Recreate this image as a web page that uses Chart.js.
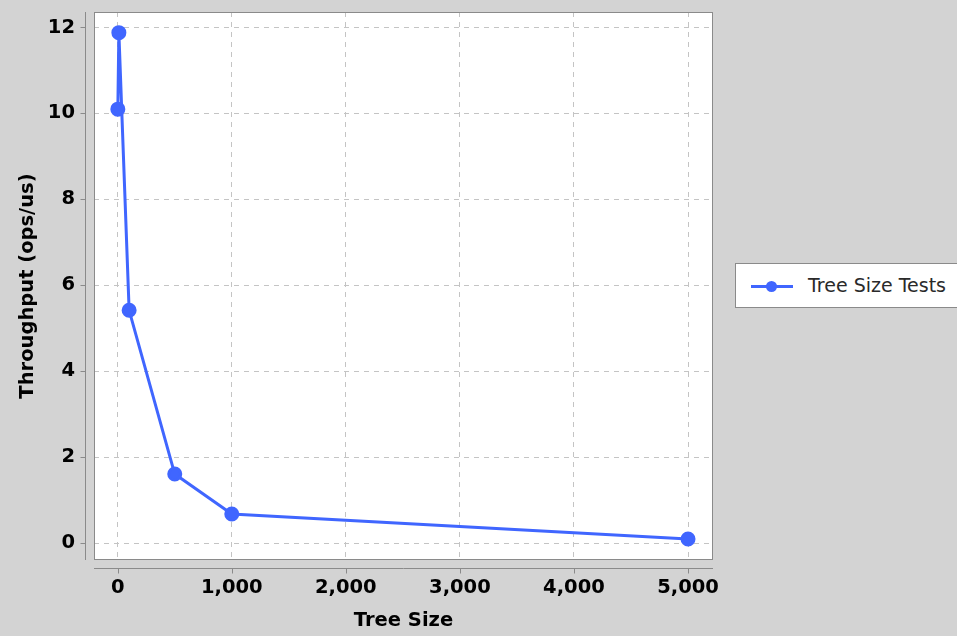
<!DOCTYPE html>
<html>
<head>
<meta charset="utf-8">
<script src="https://cdn.jsdelivr.net/npm/chart.js@4.4.1/dist/chart.umd.min.js"></script>
<style>
  html, body { margin: 0; padding: 0; background: #d3d3d3; overflow: hidden; }
  #wrap { position: relative; width: 957px; height: 636px; overflow: hidden; }
  #legend {
    position: absolute; left: 735px; top: 263px; width: 240px; height: 45px;
    box-sizing: border-box; background: #fff; border: 1px solid #8a8a8a;
    font-family: "DejaVu Sans", sans-serif; font-size: 19px; color: #2a2a2a;
  }
  #legend .line { position: absolute; left: 15px; top: 21px; width: 42px; height: 3px; background: #4066ff; }
  #legend .dot { position: absolute; left: 30px; top: 17px; width: 11px; height: 11px; border-radius: 50%; background: #4066ff; }
  #legend .txt { position: absolute; left: 72px; top: 10px; white-space: nowrap; }
</style>
</head>
<body>
<div id="wrap">
  <canvas id="chart" width="957" height="636"></canvas>
  <div id="legend"><span class="line"></span><span class="dot"></span><span class="txt" id="legendText"></span></div>
</div>
<script>
// ---- données ----
const seriesName = 'Tree Size Tests';
const treeSizes = [1, 10, 100, 500, 1000, 5000];
const throughput = [10.1, 11.88, 5.42, 1.61, 0.68, 0.1];
const xTickValues = [0, 1000, 2000, 3000, 4000, 5000];
const yTickValues = [0, 2, 4, 6, 8, 10, 12];
// ----------------------------------

const blue = '#4066ff';
const tickFont = { family: 'DejaVu Sans', size: 19.5, weight: 'bold' };

document.getElementById('legendText').textContent = seriesName;

// fond blanc du tracé + cadre + axes décalés (style JFreeChart)
const plotFrame = {
  id: 'plotFrame',
  beforeDraw(chart) {
    const { ctx, chartArea: a } = chart;
    ctx.save();
    ctx.fillStyle = '#fff';
    ctx.fillRect(a.left, a.top, a.right - a.left, a.bottom - a.top);
    ctx.restore();
  },
  afterDatasetsDraw(chart) {
    const { ctx, chartArea: a, scales } = chart;
    ctx.save();
    ctx.strokeStyle = '#8a8a8a';
    ctx.lineWidth = 1;
    ctx.strokeRect(a.left + 0.5, a.top + 0.5, a.right - a.left - 1, a.bottom - a.top - 1);
    // axe Y
    const ax = a.left - 8.5;
    ctx.beginPath();
    ctx.moveTo(ax, a.top); ctx.lineTo(ax, a.bottom);
    yTickValues.forEach(v => {
      const py = Math.round(scales.y.getPixelForValue(v)) + 0.5;
      ctx.moveTo(ax - 5, py); ctx.lineTo(ax, py);
    });
    // axe X
    const ay = a.bottom + 8.5;
    ctx.moveTo(a.left, ay); ctx.lineTo(a.right, ay);
    xTickValues.forEach(v => {
      const px = Math.round(scales.x.getPixelForValue(v)) + 0.5;
      ctx.moveTo(px, ay); ctx.lineTo(px, ay + 5);
    });
    ctx.stroke();
    ctx.restore();
  }
};

const gridOpts = { color: '#c4c4c4', lineWidth: 1, drawTicks: false };

new Chart(document.getElementById('chart'), {
  type: 'line',
  data: {
    datasets: [{
      label: seriesName,
      data: treeSizes.map((x, i) => ({ x, y: throughput[i] })),
      borderColor: blue,
      backgroundColor: blue,
      borderWidth: 3,
      pointRadius: 6,
      pointHoverRadius: 6,
      tension: 0,
      fill: false
    }]
  },
  options: {
    responsive: false,
    animation: false,
    layout: { padding: { left: 0, top: 12, right: 244, bottom: 0 } },
    plugins: { legend: { display: false }, tooltip: { enabled: false } },
    scales: {
      x: {
        type: 'linear',
        min: -208, max: 5219,
        afterBuildTicks: s => { s.ticks = xTickValues.map(v => ({ value: v })); },
        afterFit: s => { s.height = 76; s.paddingLeft = 0; s.paddingRight = 0; },
        ticks: {
          font: tickFont, color: '#000', padding: 16, maxRotation: 0,
          callback: v => v.toLocaleString('en-US')
        },
        grid: gridOpts,
        border: { display: false, dash: [5, 5] },
        title: { display: true, text: 'Tree Size', font: tickFont, color: '#000', padding: { top: 0, bottom: 3 } }
      },
      y: {
        min: -0.39, max: 12.36,
        afterBuildTicks: s => { s.ticks = yTickValues.map(v => ({ value: v })); },
        afterFit: s => { s.width = 94; s.paddingTop = 0; s.paddingBottom = 0; },
        ticks: { font: tickFont, color: '#000', padding: 19 },
        grid: gridOpts,
        border: { display: false, dash: [5, 5] },
        title: { display: true, text: 'Throughput (ops/us)', font: tickFont, color: '#000', padding: { top: 16, bottom: 0 } }
      }
    }
  },
  plugins: [plotFrame]
});
</script>
</body>
</html>
